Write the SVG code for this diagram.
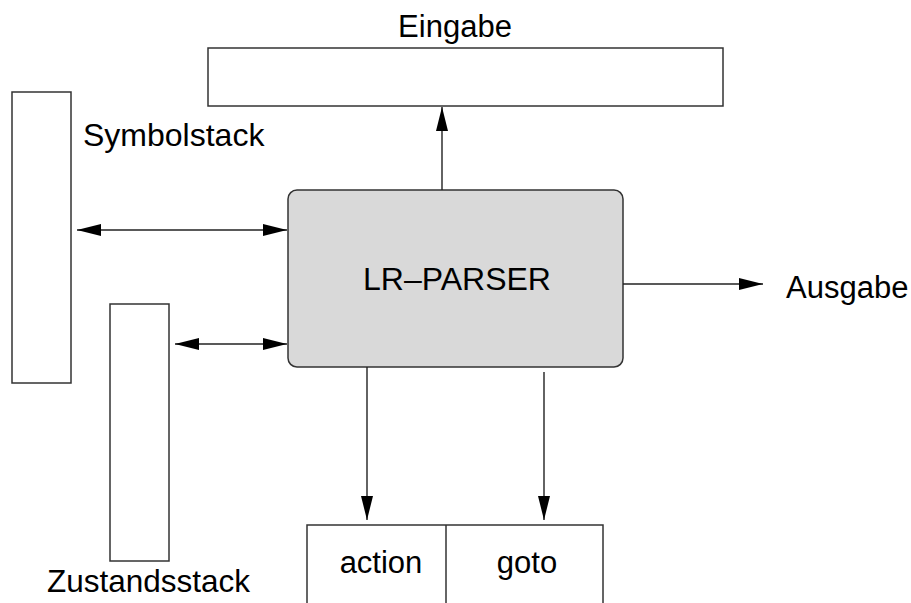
<svg xmlns="http://www.w3.org/2000/svg" width="911" height="603" viewBox="0 0 911 603">
<style>
.box{fill:#fff;stroke:#333;stroke-width:1.5}
.lbl{font-family:"Liberation Sans",Arial,sans-serif;font-size:31px;fill:#000}
.con{stroke:#222;stroke-width:1.4;fill:none}
</style>
<defs>
<marker id="ah" markerUnits="userSpaceOnUse" markerWidth="24" markerHeight="12" refX="24" refY="6" orient="auto-start-reverse">
<path d="M0,0 L24,6 L0,12 z" fill="#000"/>
</marker>
</defs>
<rect width="911" height="603" fill="#fff"/>
<g id="eingabe">
<rect class="box" x="208" y="48" width="515" height="58"/>
<text class="lbl" x="455" y="37" text-anchor="middle">Eingabe</text>
</g>
<g id="symbolstack">
<rect class="box" x="12" y="92" width="59" height="291"/>
<text class="lbl" x="83" y="146" style="font-size:32px">Symbolstack</text>
</g>
<g id="zustandsstack">
<rect class="box" x="110" y="304" width="59" height="257"/>
<text class="lbl" x="47" y="592" style="font-size:31.5px">Zustandsstack</text>
</g>
<g id="parser">
<rect x="288" y="190" width="335" height="177" rx="9" ry="9" fill="#d9d9d9" stroke="#333" stroke-width="1.5"/>
<text class="lbl" x="457" y="290" text-anchor="middle" style="font-size:32px">LR–PARSER</text>
</g>
<g id="ausgabe">
<text class="lbl" x="786" y="298">Ausgabe</text>
</g>
<g id="table">
<rect class="box" x="307" y="525" width="296" height="90"/>
<line x1="446" y1="525" x2="446" y2="603" stroke="#333" stroke-width="1.5"/>
<text class="lbl" x="381" y="573" text-anchor="middle">action</text>
<text class="lbl" x="527" y="573" text-anchor="middle">goto</text>
</g>
<g id="connectors">
<line class="con" x1="442" y1="190" x2="442" y2="107" marker-end="url(#ah)"/>
<line class="con" x1="77" y1="230" x2="287" y2="230" marker-start="url(#ah)" marker-end="url(#ah)"/>
<line class="con" x1="175" y1="344" x2="287" y2="344" marker-start="url(#ah)" marker-end="url(#ah)"/>
<line class="con" x1="623" y1="284" x2="763" y2="284" marker-end="url(#ah)"/>
<line class="con" x1="367" y1="367" x2="367" y2="520" marker-end="url(#ah)"/>
<line class="con" x1="544" y1="372" x2="544" y2="520" marker-end="url(#ah)"/>
</g>
</svg>
